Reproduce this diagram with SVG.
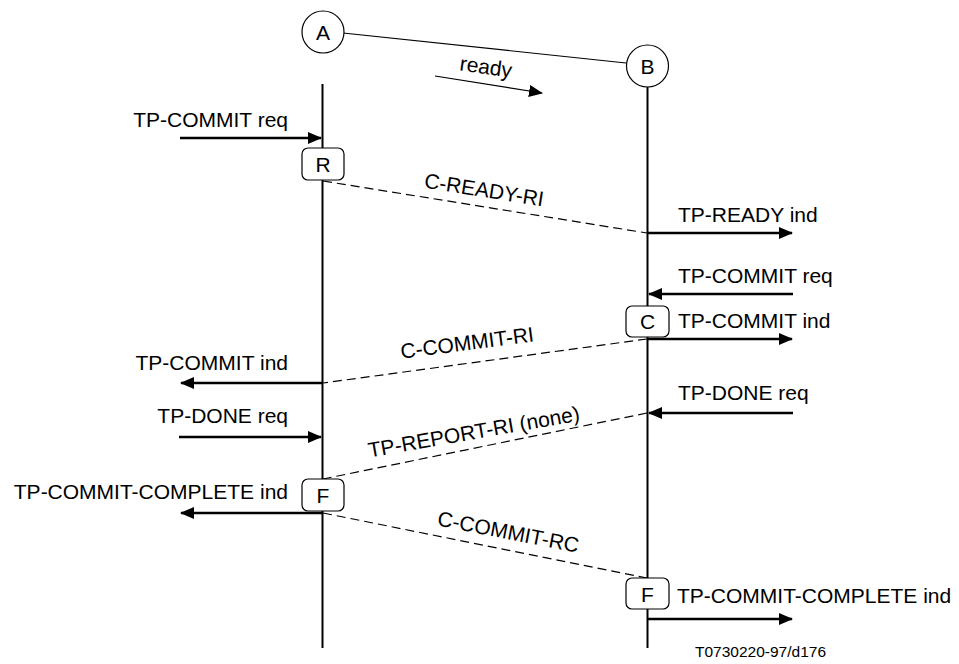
<svg xmlns="http://www.w3.org/2000/svg" width="959" height="664" viewBox="0 0 959 664">
<style>
text{font-family:"Liberation Sans",Arial,sans-serif;font-size:21px;fill:#000}
.end{text-anchor:end}
.mid{text-anchor:middle}
.life{stroke:#000;stroke-width:2;fill:none}
.box{fill:#fff;stroke:#000;stroke-width:1.2}
.arr{stroke:#000;stroke-width:2.5;fill:none;marker-end:url(#ah)}
.dash{stroke:#000;stroke-width:1.2;fill:none;stroke-dasharray:9 5}
.thin{stroke:#000;stroke-width:1.2;fill:none}
.note{font-size:15.5px}
</style>
<defs>
<marker id="ah" markerUnits="userSpaceOnUse" markerWidth="14" markerHeight="12" refX="13" refY="6" orient="auto">
<path d="M0,0 L14,6 L0,12 z" fill="#000"/>
</marker>
</defs>
<rect width="959" height="664" fill="#fff"/>
<g id="lifelines">
<line class="life" x1="322.5" y1="84" x2="322.5" y2="648"/>
<line class="life" x1="647.5" y1="86" x2="647.5" y2="648"/>
</g>
<g id="connectors">
<line class="thin" x1="343" y1="33" x2="626" y2="63"/>
<line class="thin" x1="435" y1="76" x2="542" y2="93" marker-end="url(#ah)"/>
<text transform="translate(485,74) rotate(8)" class="mid">ready</text>
<line class="arr" x1="180" y1="138" x2="321" y2="138"/>
<line class="dash" x1="323" y1="181" x2="647" y2="233"/>
<line class="arr" x1="648" y1="233" x2="792" y2="233"/>
<line class="arr" x1="793" y1="294" x2="649" y2="294"/>
<line class="arr" x1="648" y1="339" x2="792" y2="339"/>
<line class="dash" x1="647" y1="339" x2="323" y2="383"/>
<line class="arr" x1="322" y1="383" x2="181" y2="383"/>
<line class="arr" x1="179" y1="437" x2="321" y2="437"/>
<line class="arr" x1="793" y1="413" x2="649" y2="413"/>
<line class="dash" x1="647" y1="413" x2="323" y2="479"/>
<line class="arr" x1="322" y1="513" x2="181" y2="513"/>
<line class="dash" x1="323" y1="513" x2="647" y2="578"/>
<line class="arr" x1="648" y1="619" x2="792" y2="619"/>
</g>
<g id="labels">
<text x="288" y="127" class="end">TP-COMMIT req</text>
<text transform="translate(483,197) rotate(9)" class="mid">C-READY-RI</text>
<text x="678" y="222">TP-READY ind</text>
<text x="678" y="283">TP-COMMIT req</text>
<text x="678" y="328">TP-COMMIT ind</text>
<text transform="translate(468,350) rotate(-7.5)" class="mid">C-COMMIT-RI</text>
<text x="288" y="370" class="end">TP-COMMIT ind</text>
<text x="678" y="400">TP-DONE req</text>
<text x="288" y="423" class="end">TP-DONE req</text>
<text transform="translate(475,439) rotate(-10)" class="mid">TP-REPORT-RI (none)</text>
<text x="288" y="499" class="end">TP-COMMIT-COMPLETE ind</text>
<text transform="translate(507,539) rotate(11)" class="mid">C-COMMIT-RC</text>
<text x="677" y="603">TP-COMMIT-COMPLETE ind</text>
<text x="695" y="657" class="note">T0730220-97/d176</text>
</g>
<g id="A">
<circle class="box" cx="323" cy="32" r="21"/>
<text x="323" y="40" class="mid">A</text>
</g>
<g id="B">
<circle class="box" cx="647.5" cy="66" r="21"/>
<text x="647.5" y="74" class="mid">B</text>
</g>
<g id="R">
<rect class="box" x="302" y="148" width="42" height="32" rx="6"/>
<text x="323" y="172" class="mid">R</text>
</g>
<g id="C">
<rect class="box" x="626" y="306" width="43" height="31" rx="6"/>
<text x="647.5" y="329" class="mid">C</text>
</g>
<g id="F1">
<rect class="box" x="302" y="479" width="42" height="32" rx="6"/>
<text x="323" y="503" class="mid">F</text>
</g>
<g id="F2">
<rect class="box" x="626" y="578" width="43" height="31" rx="6"/>
<text x="647.5" y="602" class="mid">F</text>
</g>
</svg>
